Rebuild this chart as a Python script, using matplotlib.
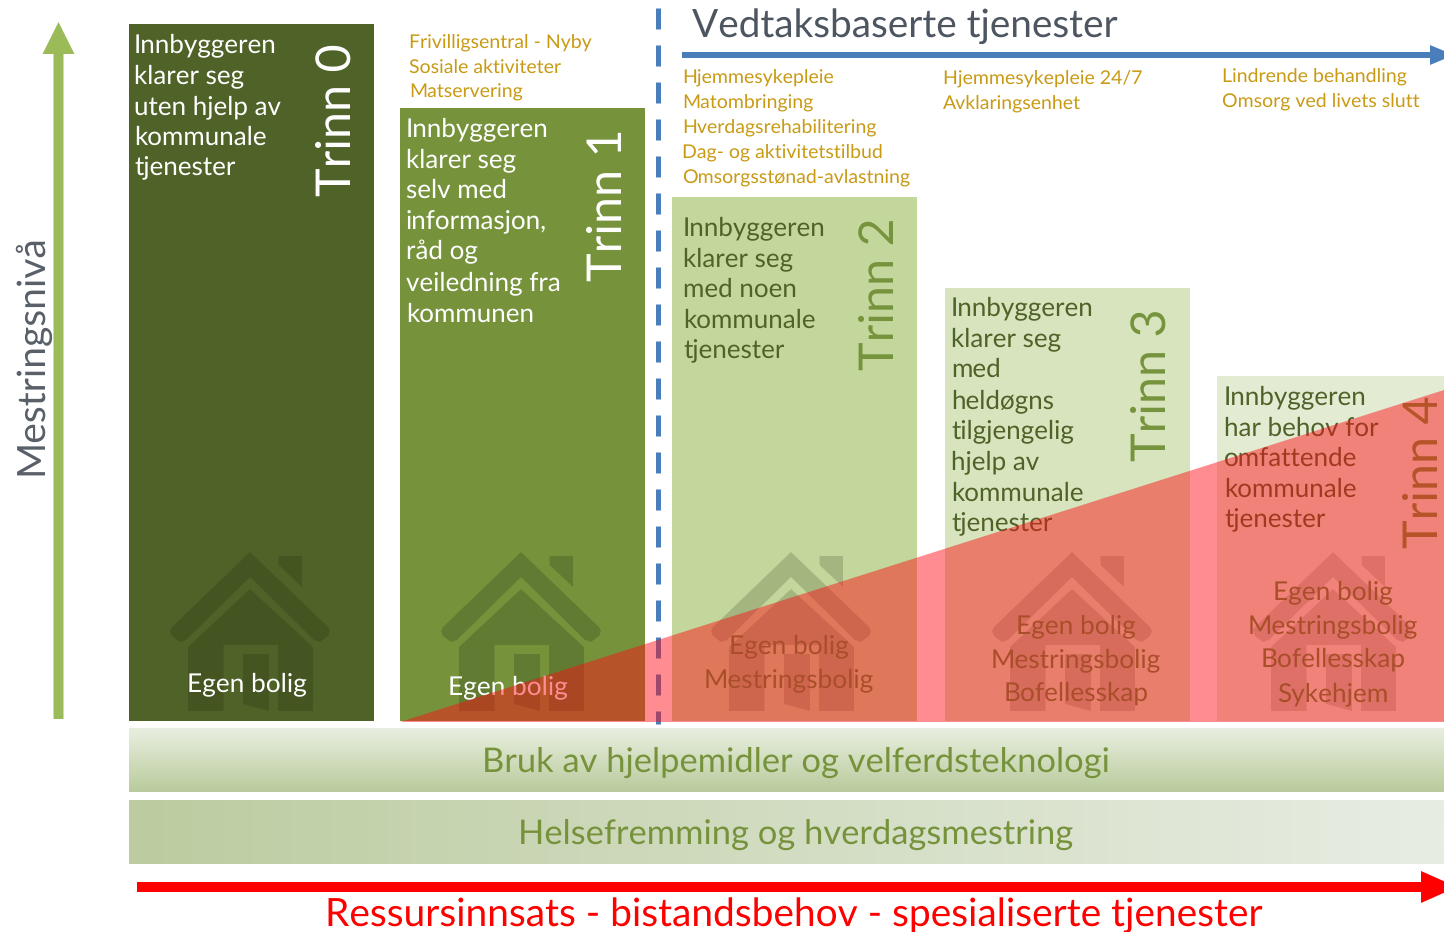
import numpy as np
import matplotlib
matplotlib.use("Agg")
import matplotlib.pyplot as plt
from matplotlib.patches import Polygon, FancyArrow

plt.rcParams['font.family'] = ['Lato', 'DejaVu Sans']
plt.rcParams['text.hinting'] = 'none'

# ---- data ----
stage_labels = ["Trinn 0", "Trinn 1", "Trinn 2", "Trinn 3", "Trinn 4"]
stage_heights = [697, 613, 524, 433, 345]
stage_widths = [245, 245, 245, 245, 227]
stage_lefts = [129, 400, 672, 945, 1217]
stage_colors = ["#4f6228", "#76933c", "#c3d69b", "#d7e4bd", "#e3ebd3"]
stage_text = [
    ["Innbyggeren", "klarer seg", "uten hjelp av", "kommunale", "tjenester"],
    ["Innbyggeren", "klarer seg", "selv med", "informasjon,", "råd og", "veiledning fra", "kommunen"],
    ["Innbyggeren", "klarer seg", "med noen", "kommunale", "tjenester"],
    ["Innbyggeren", "klarer seg", "med", "heldøgns", "tilgjengelig", "hjelp av", "kommunale", "tjenester"],
    ["Innbyggeren", "har behov for", "omfattende", "kommunale", "tjenester"],
]
housing_text = [
    ["Egen bolig"],
    ["Egen bolig"],
    ["Egen bolig", "Mestringsbolig"],
    ["Egen bolig", "Mestringsbolig", "Bofellesskap"],
    ["Egen bolig", "Mestringsbolig", "Bofellesskap", "Sykehjem"],
]
service_groups = [
    ["Frivilligsentral - Nyby", "Sosiale aktiviteter", "Matservering"],
    ["Hjemmesykepleie", "Matombringing", "Hverdagsrehabilitering", "Dag- og aktivitetstilbud", "Omsorgsstønad-avlastning"],
    ["Hjemmesykepleie 24/7", "Avklaringsenhet"],
    ["Lindrende behandling", "Omsorg ved livets slutt"],
]
wedge_x = [400, 1444]
wedge_rise = [0, 332]

BASE = 721
GOLD = "#c99a14"
px = lambda v: v * 0.72

fig = plt.figure(figsize=(14.44, 9.32), dpi=100)
ax = fig.add_axes([0, 0, 1, 1])
ax.set_xlim(0, 1444)
ax.set_ylim(932, 0)
ax.axis("off")

# stage bars
ax.bar(stage_lefts, [-h for h in stage_heights], width=stage_widths, bottom=BASE,
       align="edge", color=stage_colors, linewidth=0, zorder=1)

# house icons
def house(cx, top, alpha):
    shapes = [
        [(0, 0), (78, 75), (80, 79), (78, 84), (70, 90), (64, 88), (0, 25),
         (-64, 88), (-70, 90), (-78, 84), (-80, 79), (-78, 75)],
        [(0, 37), (63, 95), (63, 159), (28, 159), (28, 93), (-26.5, 93),
         (-26.5, 159), (-62, 159), (-62, 95)],
        [(-7, 102), (19, 102), (19, 159), (-7, 152)],
        [(28.6, 4), (52, 4), (52, 35), (28.6, 13)],
    ]
    for s in shapes:
        ax.add_patch(Polygon([(cx + x, top + y) for x, y in s], closed=True,
                             fc="#1f2a10", alpha=alpha, lw=0, zorder=2))

for cx, a in zip([250, 521, 791, 1072, 1333], [0.22, 0.22, 0.19, 0.19, 0.17]):
    house(cx, 552, a)

# stage body text
body_x = [134, 406, 683, 951, 1224]
body_y = [52.5, 136.5, 235.5, 315.5, 404.5]
body_col = ["white", "white", "#4f6228", "#4f6228", "#4f6228"]
for x, y0, lines, c in zip(body_x, body_y, stage_text, body_col):
    for i, l in enumerate(lines):
        ax.text(x, y0 + i * 30.8, l, color=c, fontsize=px(26), va="baseline", ha="left", zorder=3)

# stage labels
label_x = [337, 608, 880, 1152, 1424]
label_y = [120, 205, 294, 385, 472]
label_col = ["white", "white", "#76933c", "#76933c", "#76933c"]
for x, y, l, c in zip(label_x, label_y, stage_labels, label_col):
    ax.text(x, y, l, color=c, rotation=90, fontsize=px(48.5), ha="center", va="center", zorder=3)

# housing text
hx = [247, 508, 789, 1076, 1333]
hy = [691, 694, 653, 633, 599]
hc = ["white", "white", "#5f8a3c", "#5f8a3c", "#5f8a3c"]
for x, y0, lines, c in zip(hx, hy, housing_text, hc):
    for i, l in enumerate(lines):
        ax.text(x, y0 + i * 34, l, color=c, fontsize=px(26.2), ha="center", va="baseline", zorder=3)

# dashed divider
ax.plot([658, 658], [8, 724], color="#4a7ebb", lw=px(5), linestyle=(0, (21 / 5, 16 / 5)),
        dash_capstyle="butt", zorder=2)

# resource wedge
ax.add_patch(Polygon([(wedge_x[0], BASE + 1 - wedge_rise[0]), (wedge_x[1], BASE + 1 - wedge_rise[1]),
                      (wedge_x[1], BASE + 1)], closed=True, fc="#ff0c14", alpha=0.47, lw=0, zorder=4))

# gradient bands
def band(y0, y1, c0, c1, vertical):
    c0 = np.array(matplotlib.colors.to_rgb(c0)); c1 = np.array(matplotlib.colors.to_rgb(c1))
    t = np.linspace(0, 1, 128)
    img = c0 + (c1 - c0) * t[:, None]
    img = img[:, None, :] if vertical else img[None, :, :]
    ax.imshow(img, extent=(129, 1444, y1, y0), aspect="auto", interpolation="bilinear", zorder=1)

band(728, 792, "#e9efe0", "#b9cb9c", True)
band(800, 864, "#bccca0", "#e8ede3", False)
ax.set_xlim(0, 1444)
ax.set_ylim(932, 0)

ax.text(796, 772, "Bruk av hjelpemidler og velferdsteknologi", color="#76933c", fontsize=px(34.45), ha="center", va="baseline", zorder=3)
ax.text(796, 844, "Helsefremming og hverdagsmestring", color="#76933c", fontsize=px(34.45), ha="center", va="baseline", zorder=3)
ax.text(793.5, 926, "Ressursinnsats - bistandsbehov - spesialiserte tjenester", color="#ff0000", fontsize=px(38.9), ha="center", va="baseline", zorder=3)

# arrows
ax.add_patch(FancyArrow(58.5, 719, 0, -697, width=10, head_width=32, head_length=32,
                        length_includes_head=True, fc="#9bbb59", lw=0, zorder=3))
ax.add_patch(FancyArrow(682, 55, 772, 0, width=6, head_width=20, head_length=24,
                        length_includes_head=True, fc="#4a7ebb", lw=0, zorder=3))
ax.add_patch(FancyArrow(137, 887, 1320, 0, width=10, head_width=32, head_length=36,
                        length_includes_head=True, fc="#ff0000", lw=0, zorder=3))

ax.text(692, 37, "Vedtaksbaserte tjenester", color="#4d5660", fontsize=px(38.7), ha="left", va="baseline")
ax.text(31, 354.5, "Mestringsnivå", color="#595f69", rotation=90, fontsize=px(39), ha="center", va="center")

# service lists
sx = [409, 682, 943, 1222]
sy = [48, 83, 84, 82]
for x, y0, lines in zip(sx, sy, service_groups):
    for i, l in enumerate(lines):
        ax.text(x, y0 + i * 25.0, l, color=GOLD, fontsize=px(19.5), ha="left", va="baseline")

fig.savefig("out.png", dpi=100)
